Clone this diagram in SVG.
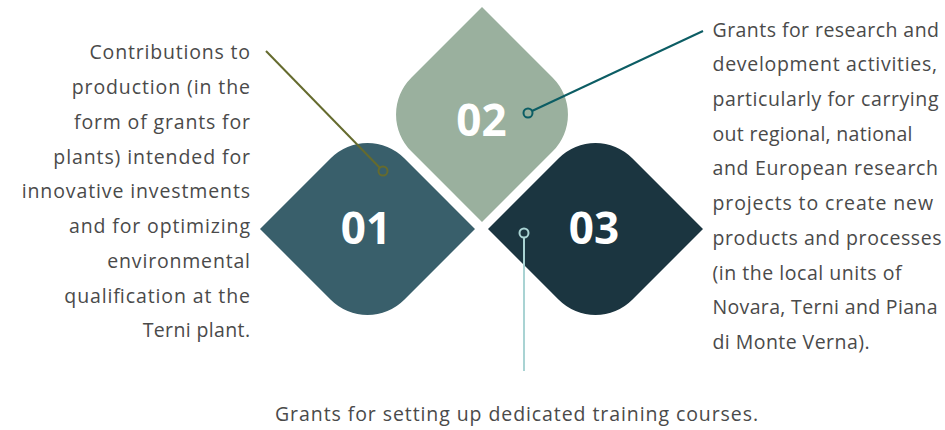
<svg xmlns="http://www.w3.org/2000/svg" width="945" height="430" viewBox="0 0 945 430">
<style>
.lbl{font-family:"Open Sans","Liberation Sans",sans-serif;font-size:19.5px;fill:#4a4a4a}
.num{font-family:"Open Sans","Liberation Sans",sans-serif;font-weight:bold;font-size:44px;fill:#ffffff;text-anchor:middle}
.dot{fill:none;stroke-width:2}
</style>
<rect width="945" height="430" fill="#ffffff"/>
<g id="node-01">
<path d="M260,229 L330.73,158.27 A52,52 0 0 1 404.27,158.27 L475,229 L404.27,299.73 A52,52 0 0 1 330.73,299.73 Z" fill="#395F6B"/>
<text class="num" x="366" y="244">01</text>
</g>
<g id="node-02">
<path d="M482,7 L552.73,77.73 A52,52 0 0 1 552.73,151.27 L482,222 L411.27,151.27 A52,52 0 0 1 411.27,77.73 Z" fill="#9AB09E"/>
<text class="num" x="481.5" y="136">02</text>
</g>
<g id="node-03">
<path d="M488,229 L558.73,158.27 A52,52 0 0 1 632.27,158.27 L703,229 L632.27,299.73 A52,52 0 0 1 558.73,299.73 Z" fill="#1B3540"/>
<text class="num" x="594" y="244">03</text>
</g>
<g id="connectors">
<line x1="266" y1="51" x2="379.8" y2="167.8" stroke="#656B2E" stroke-width="2"/>
<circle class="dot" cx="383" cy="171" r="4.5" stroke="#656B2E"/>
<line x1="703" y1="31" x2="532" y2="111" stroke="#0C5D64" stroke-width="2"/>
<circle class="dot" cx="528" cy="113" r="4.5" stroke="#0C5D64"/>
<line x1="524" y1="237.5" x2="524" y2="371" stroke="#A9D3D3" stroke-width="2"/>
<circle class="dot" cx="524" cy="233" r="4.5" stroke="#A9D3D3"/>
</g>
<g id="label-01">
<text class="lbl" x="89.5" y="59" textLength="160.5" lengthAdjust="spacing">Contributions to</text>
<text class="lbl" x="71.7" y="94" textLength="178.3" lengthAdjust="spacing">production (in the</text>
<text class="lbl" x="74" y="129" textLength="176" lengthAdjust="spacing">form of grants for</text>
<text class="lbl" x="53.3" y="164" textLength="196.7" lengthAdjust="spacing">plants) intended for</text>
<text class="lbl" x="21.7" y="198" textLength="228.3" lengthAdjust="spacing">innovative investments</text>
<text class="lbl" x="69" y="233" textLength="181" lengthAdjust="spacing">and for optimizing</text>
<text class="lbl" x="107.3" y="268" textLength="142.7" lengthAdjust="spacing">environmental</text>
<text class="lbl" x="64.3" y="303" textLength="185.7" lengthAdjust="spacing">qualification at the</text>
<text class="lbl" x="142.7" y="337" textLength="107.3" lengthAdjust="spacing">Terni plant.</text>
</g>
<g id="label-02">
<text class="lbl" x="712.5" y="37" textLength="226.5" lengthAdjust="spacing">Grants for research and</text>
<text class="lbl" x="712.5" y="71" textLength="224.5" lengthAdjust="spacing">development activities,</text>
<text class="lbl" x="712.5" y="106" textLength="226" lengthAdjust="spacing">particularly for carrying</text>
<text class="lbl" x="712.5" y="141" textLength="200" lengthAdjust="spacing">out regional, national</text>
<text class="lbl" x="712.5" y="175" textLength="225.5" lengthAdjust="spacing">and European research</text>
<text class="lbl" x="712.5" y="210" textLength="220.5" lengthAdjust="spacing">projects to create new</text>
<text class="lbl" x="712.5" y="245" textLength="229" lengthAdjust="spacing">products and processes</text>
<text class="lbl" x="712.5" y="280" textLength="189" lengthAdjust="spacing">(in the local units of</text>
<text class="lbl" x="712.5" y="314" textLength="225" lengthAdjust="spacing">Novara, Terni and Piana</text>
<text class="lbl" x="712.5" y="349" textLength="157" lengthAdjust="spacing">di Monte Verna).</text>
</g>
<g id="label-03">
<text class="lbl" x="275" y="421" textLength="483" lengthAdjust="spacing">Grants for setting up dedicated training courses.</text>
</g>
</svg>
